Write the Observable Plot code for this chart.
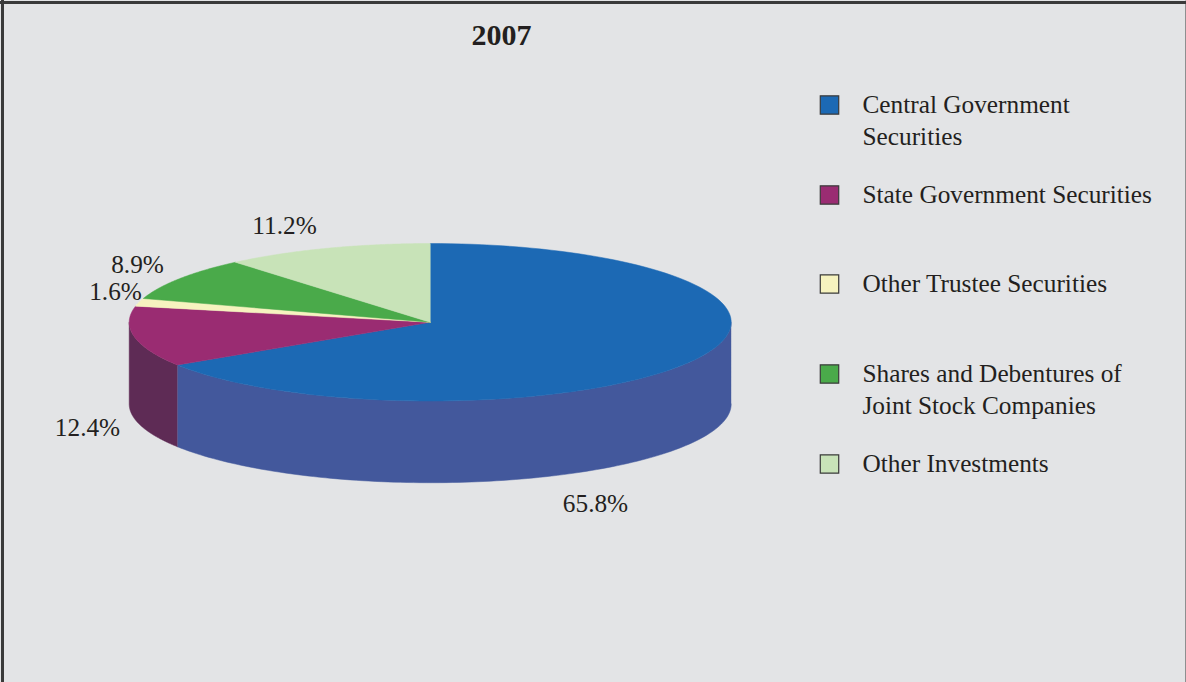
<!DOCTYPE html>
<html>
<head>
<meta charset="utf-8">
<script src="https://cdn.jsdelivr.net/npm/d3@7"></script>
<script src="https://cdn.jsdelivr.net/npm/@observablehq/plot@0.6"></script>
<style>
html,body{margin:0;padding:0;background:#e3e4e6;overflow:hidden}
svg{display:block}
</style>
</head>
<body>
<div id="chart"></div>
<script>
const categories = ["Central Government Securities","State Government Securities","Other Trustee Securities","Shares and Debentures of Joint Stock Companies","Other Investments"];
const legendLabels = ["Central Government\nSecurities","State Government Securities","Other Trustee Securities","Shares and Debentures of\nJoint Stock Companies","Other Investments"];
const shares = [65.8,12.4,1.6,8.9,11.2];
const shareLabels = ["65.8%","12.4%","1.6%","8.9%","11.2%"];
const topColors = ["#1c69b4","#9a2c72","#f6f3bf","#4aaa4a","#c8e3b8"];
const wallColors = ["#43589c","#5e2b55","#d8d4a0","#3a8a3a","#a8c398"];
const title = "2007";

const FONT = '"Liberation Serif", serif';
const INK = "#231f20";
const depth = 82 / 79;                // wall height in units of the ellipse's minor radius
const total = d3.sum(shares);
const ends = Array.from(d3.cumsum(shares), v => v / total * 2 * Math.PI);
const starts = [0, ...ends.slice(0, -1)];
const samples = (a, b) => d3.range(0, 121).map(i => a + (b - a) * i / 120);

const topRows = categories.flatMap((name, i) => [
  {name, u: 0, v: 0},
  ...samples(starts[i], ends[i]).map(t => ({name, u: Math.sin(t), v: Math.cos(t)})),
  {name, u: 0, v: 0}
]);

const wallRows = categories.flatMap((name, i) => {
  const a = Math.max(starts[i], Math.PI / 2), b = Math.min(ends[i], 3 * Math.PI / 2);
  if (a >= b) return [];
  const arc = samples(a, b);
  const key = name + " (side)";
  return [
    ...arc.map(t => ({name: key, u: Math.sin(t), v: Math.cos(t)})),
    ...arc.reverse().map(t => ({name: key, u: Math.sin(t), v: Math.cos(t) - depth}))
  ];
});

const colorDomain = [...categories, ...categories.map(c => c + " (side)")];
const colorRange = [...topColors, ...wallColors];

const legendY = [105, 195, 284, 374, 464];
const labelPos = [[595,503],[87,427],[115,291],[137,264],[284,225]];

const textBase = {frameAnchor: "top-left", fontFamily: FONT, fontSize: 25.3, fill: INK};

const plot = Plot.plot({
  width: 1186, height: 682,
  marginTop: 0, marginRight: 0, marginBottom: 0, marginLeft: 0,
  style: {background: "#e3e4e6", fontFamily: FONT},
  x: {domain: [-1, 1], range: [128.7, 730.7], axis: null},
  y: {domain: [-1, 1], range: [400.5, 243], axis: null},
  color: {domain: colorDomain, range: colorRange},
  marks: [
    Plot.line(wallRows, {x: "u", y: "v", z: "name", fill: "name", stroke: "name", strokeWidth: 0.5}),
    Plot.line(topRows, {x: "u", y: "v", z: "name", fill: "name", stroke: "name", strokeWidth: 0.5}),
    Plot.text([title], {text: d => d, frameAnchor: "top-left", dx: 501, dy: 35, textAnchor: "middle", lineAnchor: "middle", fontFamily: FONT, fontSize: 30, fontWeight: "bold", fill: INK}),
    ...shareLabels.map((s, i) => Plot.text([s], {text: d => d, ...textBase, dx: labelPos[i][0], dy: labelPos[i][1], textAnchor: "middle", lineAnchor: "middle"})),
    ...categories.map((c, i) => Plot.dot([c], {frameAnchor: "top-left", dx: 829, dy: legendY[i] - 0.5, symbol: "square", r: 10.4, fill: d => d, stroke: "#3a3a3a", strokeWidth: 1.2})),
    ...legendLabels.map((s, i) => Plot.text([s], {text: d => d, ...textBase, dx: 862, dy: legendY[i] - 15, textAnchor: "start", lineAnchor: "top", lineHeight: 1.265})),
    Plot.frame({anchor: "top", stroke: "#3a3a3a", strokeWidth: 3, insetTop: 2, insetLeft: 1}),
    Plot.frame({anchor: "left", stroke: "#3a3a3a", strokeWidth: 3, insetLeft: 2, insetTop: 1}),
    Plot.frame({anchor: "right", stroke: "#3a3a3a", strokeWidth: 2, insetRight: 0, insetTop: 1})
  ]
});
document.getElementById("chart").append(plot);
</script>
</body>
</html>
